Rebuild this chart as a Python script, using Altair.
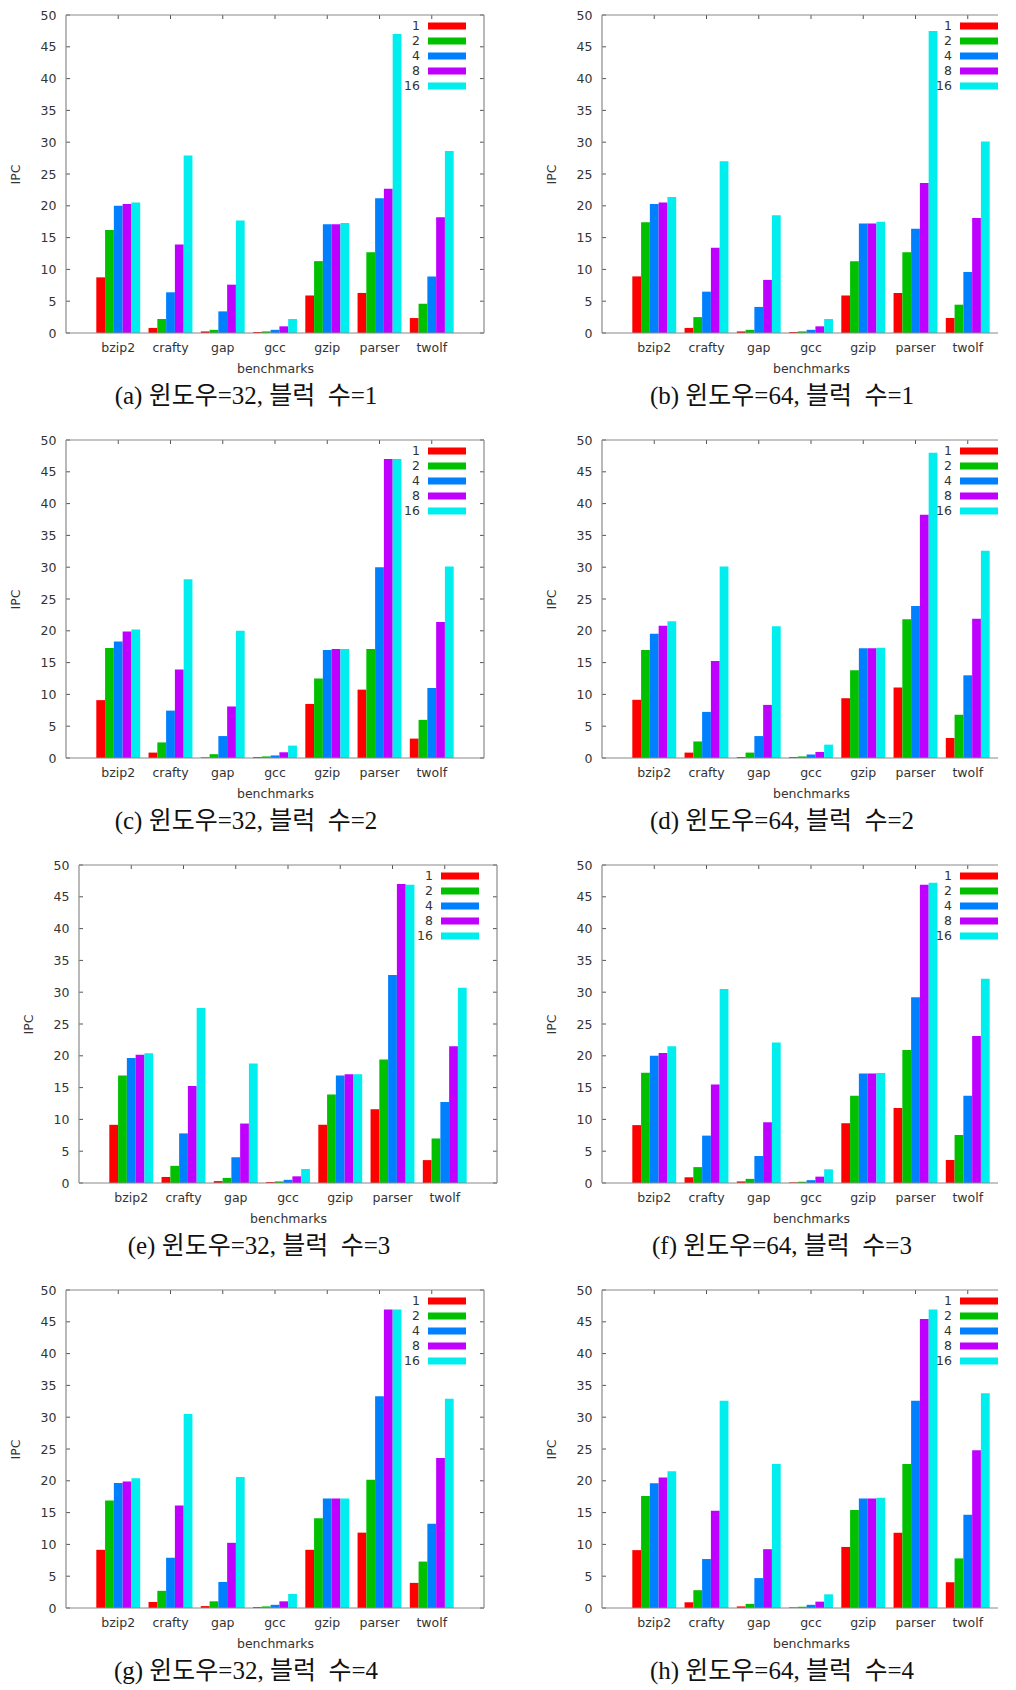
import altair as alt
import pandas as pd

benchmarks = ["bzip2", "crafty", "gap", "gcc", "gzip", "parser", "twolf"]
series_labels = ["1", "2", "4", "8", "16"]
colors = ["#ff0000", "#00c000", "#0080ff", "#c000ff", "#00eeee"]
y_ticks = [0, 5, 10, 15, 20, 25, 30, 35, 40, 45, 50]

captions = [
    "(a) 윈도우=32, 블럭\u00a0 수=1",
    "(b) 윈도우=64, 블럭\u00a0 수=1",
    "(c) 윈도우=32, 블럭\u00a0 수=2",
    "(d) 윈도우=64, 블럭\u00a0 수=2",
    "(e) 윈도우=32, 블럭\u00a0 수=3",
    "(f) 윈도우=64, 블럭\u00a0 수=3",
    "(g) 윈도우=32, 블럭\u00a0 수=4",
    "(h) 윈도우=64, 블럭\u00a0 수=4",
]

# rows: series 1, 2, 4, 8, 16 ; columns: benchmarks
panel_a = [
    [8.75, 0.8, 0.25, 0.15, 5.9, 6.3, 2.35],
    [16.2, 2.2, 0.5, 0.25, 11.3, 12.7, 4.6],
    [20.0, 6.4, 3.4, 0.5, 17.1, 21.2, 8.9],
    [20.3, 13.9, 7.6, 1.05, 17.1, 22.7, 18.2],
    [20.5, 27.9, 17.7, 2.2, 17.3, 47.0, 28.6],
]
panel_b = [
    [8.9, 0.8, 0.25, 0.15, 5.9, 6.3, 2.35],
    [17.4, 2.5, 0.5, 0.25, 11.3, 12.7, 4.45],
    [20.3, 6.5, 4.1, 0.5, 17.2, 16.4, 9.6],
    [20.5, 13.4, 8.35, 1.05, 17.2, 23.6, 18.1],
    [21.4, 27.0, 18.5, 2.2, 17.5, 47.5, 30.1],
]
panel_c = [
    [9.1, 0.85, 0.1, 0.15, 8.5, 10.75, 3.05],
    [17.3, 2.45, 0.6, 0.25, 12.5, 17.15, 6.0],
    [18.3, 7.45, 3.45, 0.4, 17.0, 30.0, 11.0],
    [19.9, 13.9, 8.1, 0.9, 17.15, 47.0, 21.4],
    [20.2, 28.1, 20.0, 1.95, 17.15, 47.0, 30.1],
]
panel_d = [
    [9.15, 0.85, 0.15, 0.15, 9.4, 11.1, 3.15],
    [17.0, 2.6, 0.85, 0.25, 13.8, 21.8, 6.8],
    [19.55, 7.25, 3.45, 0.55, 17.25, 23.9, 13.0],
    [20.8, 15.25, 8.35, 0.95, 17.25, 38.25, 21.9],
    [21.5, 30.1, 20.7, 2.1, 17.35, 48.0, 32.6],
]
panel_e = [
    [9.15, 0.95, 0.3, 0.15, 9.15, 11.6, 3.6],
    [16.9, 2.7, 0.8, 0.25, 13.9, 19.4, 7.0],
    [19.65, 7.8, 4.05, 0.5, 16.9, 32.7, 12.75],
    [20.15, 15.25, 9.35, 1.05, 17.1, 47.0, 21.5],
    [20.4, 27.5, 18.8, 2.2, 17.1, 46.9, 30.7],
]
panel_f = [
    [9.1, 0.9, 0.25, 0.1, 9.4, 11.8, 3.6],
    [17.35, 2.5, 0.65, 0.2, 13.7, 20.9, 7.55],
    [20.0, 7.45, 4.25, 0.45, 17.2, 29.2, 13.7],
    [20.45, 15.5, 9.55, 1.0, 17.2, 46.9, 23.1],
    [21.5, 30.5, 22.1, 2.15, 17.3, 47.2, 32.1],
]
panel_g = [
    [9.15, 0.95, 0.3, 0.15, 9.15, 11.85, 3.95],
    [16.9, 2.7, 1.05, 0.25, 14.1, 20.15, 7.3],
    [19.65, 7.9, 4.1, 0.5, 17.2, 33.3, 13.25],
    [19.9, 16.1, 10.25, 1.05, 17.2, 46.95, 23.6],
    [20.4, 30.5, 20.6, 2.2, 17.2, 46.95, 32.9],
]
panel_h = [
    [9.1, 0.9, 0.25, 0.1, 9.6, 11.85, 4.05],
    [17.6, 2.8, 0.65, 0.2, 15.4, 22.65, 7.8],
    [19.6, 7.7, 4.7, 0.5, 17.2, 32.6, 14.65],
    [20.5, 15.3, 9.25, 1.0, 17.2, 45.45, 24.8],
    [21.5, 32.6, 22.65, 2.15, 17.35, 46.95, 33.75],
]

panels = [panel_a, panel_b, panel_c, panel_d, panel_e, panel_f, panel_g, panel_h]

H = 318
W_LEFT = 418
W_RIGHT = 396
FRAME = "#8a8a8a"
TICK = "#555555"
TEXT = "#333333"
FONT = "DejaVu Sans"
FS = 12.5
CAP_FONT = "Liberation Serif, Noto Sans CJK KR"


def make_panel(values, caption, right_col, dx=0):
    W = W_RIGHT if right_col else W_LEFT
    if right_col:
        # same category step as the left panels; the right edge is cut off as in the original
        xscale = alt.Scale(domain=benchmarks, paddingInner=0.16, paddingOuter=0.3695, align=0.785,
                           range=[dx, dx + W])
        leg_x0, leg_x1, leg_tx = 358, 396, 350
    else:
        xscale = alt.Scale(domain=benchmarks, paddingInner=0.16, paddingOuter=0.58,
                           range=[dx, dx + W])
        leg_x0, leg_x1, leg_tx = 362, 400, 354
    yscale = alt.Scale(domain=[0, 50], nice=False, zero=True)

    xaxis = alt.Axis(title="benchmarks", labelAngle=0, ticks=False, tickSize=0,
                     domain=False, grid=False, labelPadding=8, titlePadding=9,
                     titleX=dx + 209,
                     labelFont=FONT, labelFontSize=FS, labelColor=TEXT,
                     titleFont=FONT, titleFontSize=FS, titleFontWeight="normal",
                     titleColor=TEXT)
    yaxis_kw = dict(title="IPC", values=y_ticks, ticks=False, tickSize=0, domain=False,
                    grid=False, labelPadding=10, titlePadding=18,
                    labelFont=FONT, labelFontSize=FS, labelColor=TEXT,
                    titleFont=FONT, titleFontSize=FS, titleFontWeight="normal",
                    titleColor=TEXT)
    if dx:
        yaxis_kw["offset"] = -dx
    yaxis = alt.Axis(**yaxis_kw)

    rows = []
    for s, vals in zip(series_labels, values):
        for b, v in zip(benchmarks, vals):
            rows.append({"bench": b, "series": s, "value": v})
    df = pd.DataFrame(rows)

    color = alt.Color("series:N", scale=alt.Scale(domain=series_labels, range=colors), legend=None)

    bars = alt.Chart(df).mark_bar().encode(
        x=alt.X("bench:N", scale=xscale, sort=benchmarks, axis=xaxis),
        xOffset=alt.XOffset("series:N", scale=alt.Scale(domain=series_labels, paddingInner=0, paddingOuter=0)),
        y=alt.Y("value:Q", scale=yscale, axis=yaxis),
        color=color,
    )

    tick_df = pd.DataFrame({"tick": y_ticks})
    one = pd.DataFrame({"k": [0]})
    bench_df = pd.DataFrame({"bench": benchmarks})
    leg_df = pd.DataFrame({"series": series_labels})

    layers = [bars]
    # top x ticks (same axis definition so the shared axis merges)
    layers.append(alt.Chart(bench_df).mark_rule(color=TICK, strokeWidth=1).encode(
        x=alt.X("bench:N", scale=xscale, sort=benchmarks, axis=xaxis), y=alt.value(0), y2=alt.value(4)))
    # inner y ticks
    layers.append(alt.Chart(tick_df).mark_rule(color=TICK, strokeWidth=1).encode(
        y=alt.Y("tick:Q", scale=yscale, axis=None), x=alt.value(dx), x2=alt.value(dx + 4)))
    if not right_col:
        layers.append(alt.Chart(tick_df).mark_rule(color=TICK, strokeWidth=1).encode(
            y=alt.Y("tick:Q", scale=yscale, axis=None), x=alt.value(dx + W - 4), x2=alt.value(dx + W)))

    # frame
    layers.append(alt.Chart(one).mark_rule(color=FRAME, strokeWidth=1.2).encode(
        x=alt.value(dx), x2=alt.value(dx + W), y=alt.value(0)))
    layers.append(alt.Chart(one).mark_rule(color=FRAME, strokeWidth=1.2).encode(
        x=alt.value(dx), x2=alt.value(dx + W), y=alt.value(H)))
    layers.append(alt.Chart(one).mark_rule(color=FRAME, strokeWidth=1.2).encode(
        x=alt.value(dx), y=alt.value(0), y2=alt.value(H)))
    if not right_col:
        layers.append(alt.Chart(one).mark_rule(color=FRAME, strokeWidth=1.2).encode(
            x=alt.value(dx + W), y=alt.value(0), y2=alt.value(H)))

    # legend
    leg_y = alt.Y("series:N", scale=alt.Scale(type="point", domain=series_labels, range=[11, 71], padding=0),
                  axis=None)
    layers.append(alt.Chart(leg_df).mark_rule(strokeWidth=7).encode(
        y=leg_y, x=alt.value(dx + leg_x0), x2=alt.value(dx + leg_x1), color=color))
    layers.append(alt.Chart(leg_df).mark_text(align="right", baseline="middle", font=FONT,
                                              fontSize=FS, color=TEXT).encode(
        y=leg_y, x=alt.value(dx + leg_tx), text="series:N"))

    # caption
    cap_df = pd.DataFrame({"cap": [caption]})
    layers.append(alt.Chart(cap_df).mark_text(align="center", baseline="middle", font=CAP_FONT,
                                              fontSize=25, color="#111111").encode(
        x=alt.value(dx + 180), y=alt.value(H + 63), text="cap:N"))

    return alt.layer(*layers).resolve_scale(y="independent").properties(width=W + dx, height=H)


rows = []
for r in range(4):
    dx = 13 if r == 2 else 0
    left = make_panel(panels[2 * r], captions[2 * r], False, dx)
    right = make_panel(panels[2 * r + 1], captions[2 * r + 1], True)
    rows.append(alt.hconcat(left, right, spacing=58 - dx).resolve_scale(x="independent", y="independent"))

chart = alt.vconcat(*rows, spacing=23).properties(
    padding={"left": 0, "top": 0, "right": 0, "bottom": 0}
).configure_view(stroke="transparent")

chart.save("out.html", embed_options={"renderer": "svg", "actions": False})
